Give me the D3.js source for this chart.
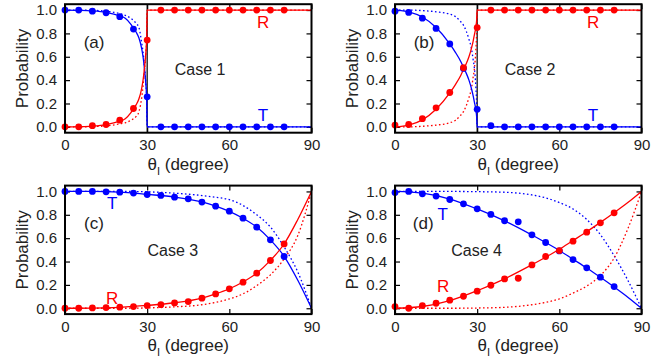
<!DOCTYPE html>
<html>
<head>
<meta charset="utf-8">
<script src="https://cdn.jsdelivr.net/npm/d3@7"></script>
<style>
  body { margin: 0; background: #fff; }
  svg { display: block; font-family: "Liberation Sans", Arial, sans-serif; }
</style>
</head>
<body>
<svg id="chart" width="667" height="360"></svg>
<script>
// dots (numerical results), same angles in every panel
const dotAngles = [0, 5, 10, 15, 20, 25, 30, 35, 40, 45, 50, 55, 60, 65, 70, 75, 80];
const aDotT = [1.0, 1.0, 0.99, 0.977, 0.943, 0.837, 0.257, 0, 0, 0, 0, 0, 0, 0, 0, 0, 0];
const aDotR = [0.0, 0.0, 0.01, 0.02, 0.057, 0.157, 0.743, 1, 1, 1, 1, 1, 1, 1, 1, 1, 1];
const bDotT = [0.99, 0.98, 0.93, 0.843, 0.71, 0.5, 0.15, 0.01, 0, 0, 0, 0, 0, 0, 0, 0, 0];
const bDotR = [0.015, 0.02, 0.07, 0.163, 0.294, 0.506, 0.85, 1, 1, 1, 1, 1, 1, 1, 1, 1, 1];
const cDotT = [1.0, 1.0, 1.0, 0.997, 0.994, 0.986, 0.974, 0.966, 0.951, 0.937, 0.909, 0.874, 0.831, 0.771, 0.694, 0.586, 0.443];
const cDotR = [0, 0, 0.003, 0.006, 0.009, 0.014, 0.023, 0.031, 0.046, 0.057, 0.086, 0.123, 0.166, 0.223, 0.3, 0.409, 0.551];
const dDotT = [0.99, 1.0, 0.98, 0.96, 0.931, 0.894, 0.851, 0.803, 0.749, 0.74, 0.629, 0.563, 0.491, 0.417, 0.346, 0.266, 0.186];
const dDotR = [0.014, 0, 0.023, 0.043, 0.069, 0.103, 0.146, 0.197, 0.251, 0.257, 0.371, 0.443, 0.494, 0.574, 0.651, 0.731, 0.817];

// curves for cases 1 and 2 (critical angle at 30)
const curveAnglesAB = [0, 5, 10, 15, 20, 22, 24, 25, 26, 27, 28, 28.5, 29, 29.5, 29.8, 30, 90];
const aSolidT = [1, 0.998, 0.993, 0.98, 0.95, 0.93, 0.88, 0.845, 0.81, 0.76, 0.67, 0.6, 0.5, 0.37, 0.25, 0, 0];
const aSolidR = [0, 0.002, 0.007, 0.02, 0.05, 0.07, 0.12, 0.155, 0.19, 0.24, 0.33, 0.4, 0.5, 0.63, 0.75, 1, 1];
const aDashT = [1, 1, 0.998, 0.99, 0.97, 0.955, 0.93, 0.91, 0.885, 0.85, 0.72, 0.64, 0.52, 0.38, 0.25, 0, 0];
const aDashR = [0, 0, 0.002, 0.008, 0.025, 0.035, 0.055, 0.07, 0.09, 0.13, 0.25, 0.35, 0.48, 0.62, 0.75, 1, 1];
const bSolidT = [1, 0.985, 0.94, 0.85, 0.71, 0.64, 0.56, 0.51, 0.46, 0.4, 0.32, 0.27, 0.21, 0.15, 0.09, 0, 0];
const bSolidR = [0, 0.015, 0.06, 0.15, 0.29, 0.36, 0.44, 0.49, 0.54, 0.6, 0.68, 0.73, 0.79, 0.85, 0.91, 1, 1];
const bDashT = [1, 1, 0.995, 0.985, 0.965, 0.945, 0.9, 0.87, 0.82, 0.75, 0.66, 0.58, 0.5, 0.35, 0.2, 0, 0];
const bDashR = [0, 0, 0.005, 0.015, 0.035, 0.055, 0.1, 0.13, 0.18, 0.25, 0.34, 0.42, 0.5, 0.65, 0.8, 1, 1];

// curves for cases 3 and 4
const curveAnglesCD = [0, 10, 20, 30, 40, 50, 55, 60, 65, 70, 75, 80, 85, 90];
const cSolidT = [1, 1, 0.995, 0.975, 0.952, 0.91, 0.875, 0.83, 0.77, 0.695, 0.585, 0.445, 0.24, 0];
const cSolidR = [0, 0.001, 0.008, 0.024, 0.047, 0.087, 0.123, 0.167, 0.225, 0.3, 0.41, 0.55, 0.76, 1];
const cDashT = [1, 1, 1, 0.997, 0.985, 0.965, 0.95, 0.93, 0.88, 0.8, 0.695, 0.525, 0.31, 0];
const cDashR = [0, 0, 0, 0.003, 0.012, 0.03, 0.05, 0.08, 0.123, 0.194, 0.286, 0.423, 0.623, 1];
const dSolidT = [1, 0.985, 0.935, 0.85, 0.748, 0.627, 0.563, 0.495, 0.42, 0.345, 0.265, 0.182, 0.095, 0];
const dSolidR = [0, 0.015, 0.065, 0.15, 0.252, 0.373, 0.437, 0.505, 0.58, 0.655, 0.735, 0.818, 0.905, 1];
const dDashT = [1, 1, 1, 0.998, 0.993, 0.97, 0.945, 0.905, 0.85, 0.76, 0.63, 0.45, 0.24, 0];
const dDashR = [0, 0, 0, 0.002, 0.008, 0.03, 0.05, 0.08, 0.13, 0.19, 0.28, 0.43, 0.68, 1];

const xTicks = [0, 30, 60, 90];
const yTicks = [0, 0.2, 0.4, 0.6, 0.8, 1.0];
const panelTags = ['(a)', '(b)', '(c)', '(d)'];
const caseNames = ['Case 1', 'Case 2', 'Case 3', 'Case 4'];
const criticalAngle = 30;

const BLUE = '#0000ff', RED = '#ff0000', INK = '#222';

const panels = [
  { col: 0, row: 0, angles: curveAnglesAB, sT: aSolidT, sR: aSolidR, dT: aDashT, dR: aDashR, pT: aDotT, pR: aDotR, crit: true,
    tag: [10.6, 0.73], caseAt: [49.3, 0.49], rAt: [72.3, 0.9], tAt: [72.3, 0.1] },
  { col: 1, row: 0, angles: curveAnglesAB, sT: bSolidT, sR: bSolidR, dT: bDashT, dR: bDashR, pT: bDotT, pR: bDotR, crit: true,
    tag: [10.6, 0.73], caseAt: [49.3, 0.49], rAt: [72.3, 0.9], tAt: [72.3, 0.1] },
  { col: 0, row: 1, angles: curveAnglesCD, sT: cSolidT, sR: cSolidR, dT: cDashT, dR: cDashR, pT: cDotT, pR: cDotR, crit: false,
    tag: [10.6, 0.73], caseAt: [39.4, 0.5], rAt: [17.2, 0.09], tAt: [17.2, 0.9] },
  { col: 1, row: 1, angles: curveAnglesCD, sT: dSolidT, sR: dSolidR, dT: dDashT, dR: dDashR, pT: dDotT, pR: dDotR, crit: false,
    tag: [10.3, 0.73], caseAt: [29.8, 0.5], rAt: [17.6, 0.195], tAt: [17.4, 0.805] }
];

const colLeft = [65, 395];
const rowTop = [4.2, 185.6];
const pw = 246.5, ph = 128.5;

const svg = d3.select('#chart');

panels.forEach((p, i) => {
  const g = svg.append('g').attr('transform', `translate(${colLeft[p.col]},${rowTop[p.row]})`);
  const x = d3.scaleLinear().domain([0, 90]).range([0, pw]);
  const y = d3.scaleLinear().domain([-0.05, 1.05]).range([ph, 0]);

  // axes with inward ticks
  const styleAxis = sel => {
    sel.select('.domain').remove();
    sel.selectAll('line').attr('stroke', '#000').attr('stroke-width', 1.2);
    sel.selectAll('text').attr('fill', INK).attr('font-size', 15).attr('font-family', 'Liberation Sans, Arial, sans-serif');
  };
  g.append('g').attr('transform', `translate(0,${ph})`)
    .call(d3.axisBottom(x).tickValues(xTicks).tickSize(-5).tickPadding(7)).call(styleAxis);
  g.append('g')
    .call(d3.axisTop(x).tickValues(xTicks).tickSize(-5).tickFormat('')).call(styleAxis);
  g.append('g')
    .call(d3.axisLeft(y).tickValues(yTicks).tickSize(-5).tickPadding(8).tickFormat(d3.format('.1f'))).call(styleAxis);
  g.append('g').attr('transform', `translate(${pw},0)`)
    .call(d3.axisRight(y).tickValues(yTicks).tickSize(-5).tickFormat('')).call(styleAxis);

  if (p.crit) {
    g.append('line')
      .attr('x1', x(criticalAngle)).attr('x2', x(criticalAngle))
      .attr('y1', 0).attr('y2', ph)
      .attr('stroke', '#000').attr('stroke-width', 1.2);
  }

  const line = d3.line().x(d => x(d[0])).y(d => y(d[1])).curve(d3.curveMonotoneX);
  const series = [
    { v: p.dT, c: BLUE, dash: '1.6,2.4' },
    { v: p.dR, c: RED, dash: '1.6,2.4' },
    { v: p.sT, c: BLUE, dash: null },
    { v: p.sR, c: RED, dash: null }
  ];
  series.forEach(s => {
    g.append('path')
      .datum(p.angles.map((a, k) => [a, s.v[k]]))
      .attr('d', line)
      .attr('fill', 'none')
      .attr('stroke', s.c)
      .attr('stroke-width', 1.3)
      .attr('stroke-dasharray', s.dash);
  });

  [[p.pT, BLUE], [p.pR, RED]].forEach(([vals, c]) => {
    g.append('g').selectAll('circle')
      .data(dotAngles.map((a, k) => [a, vals[k]]))
      .enter().append('circle')
      .attr('cx', d => x(d[0]))
      .attr('cy', d => y(d[1]))
      .attr('r', 3.4)
      .attr('fill', c);
  });

  // frame
  g.append('rect').attr('width', pw).attr('height', ph)
    .attr('fill', 'none').attr('stroke', '#000').attr('stroke-width', 2);

  const label = (pos, txt, color, size) => g.append('text')
    .attr('x', x(pos[0])).attr('y', y(pos[1]))
    .attr('dy', '0.36em')
    .attr('text-anchor', 'middle')
    .attr('fill', color).attr('font-size', size)
    .text(txt);
  label(p.tag, panelTags[i], INK, 17);
  label(p.caseAt, caseNames[i], INK, 16);
  label(p.rAt, 'R', RED, 17);
  label(p.tAt, 'T', BLUE, 17);

  // axis titles
  g.append('text')
    .attr('transform', `translate(-43,${ph / 2}) rotate(-90)`)
    .attr('text-anchor', 'middle').attr('dy', '0.36em')
    .attr('fill', INK).attr('font-size', 17)
    .text('Probability');
  const xt = g.append('text')
    .attr('x', pw / 2).attr('y', ph + 31)
    .attr('dy', '0.36em')
    .attr('text-anchor', 'middle')
    .attr('fill', INK).attr('font-size', 17);
  xt.append('tspan').text('θ');
  xt.append('tspan').attr('font-size', 11).attr('dy', '0.45em').text('I');
  xt.append('tspan').attr('dy', '-0.3em').text(' (degree)');
});
</script>
</body>
</html>
